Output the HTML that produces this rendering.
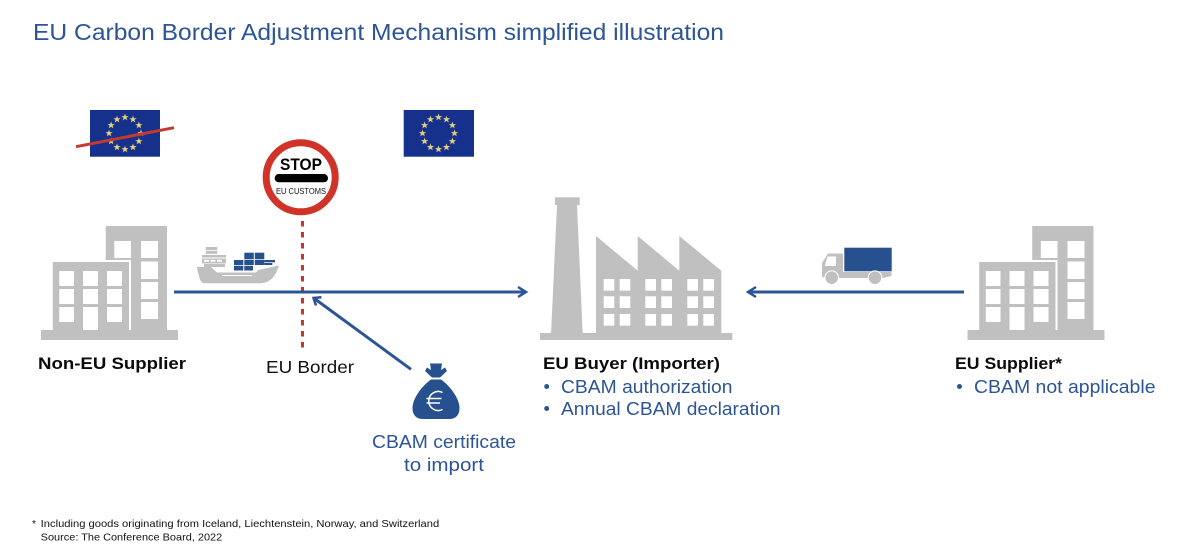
<!DOCTYPE html>
<html><head><meta charset="utf-8"><style>
html,body{margin:0;padding:0;background:#fff}
svg{display:block}
text{font-family:"Liberation Sans",sans-serif}
.b{font-weight:700;font-size:17px;fill:#0b0b0b}
.l{font-size:18px;fill:#2c5597}
</style></head><body>
<svg width="1179" height="551" viewBox="0 0 1179 551" xmlns="http://www.w3.org/2000/svg">
<defs>
<polygon id="s" fill="#e3cf7e" points="0,-3.8 .95,-1.2 3.7,-1.2 1.5,.45 2.3,3.1 0,1.5 -2.3,3.1 -1.5,.45 -3.7,-1.2 -.95,-1.2"/>
<g id="stars">
<use href="#s" x="0" y="-16"/><use href="#s" x="8" y="-13.9"/><use href="#s" x="13.9" y="-8"/><use href="#s" x="16" y="0"/><use href="#s" x="13.9" y="8"/><use href="#s" x="8" y="13.9"/><use href="#s" x="0" y="16"/><use href="#s" x="-8" y="13.9"/><use href="#s" x="-13.9" y="8"/><use href="#s" x="-16" y="0"/><use href="#s" x="-13.9" y="-8"/><use href="#s" x="-8" y="-13.9"/>
</g>
<g id="bld">
<rect x="105.7" y="226" width="61.3" height="106" fill="#c0c0c0"/>
<rect x="52.7" y="260" width="78.3" height="72" fill="#fff"/>
<rect x="52.7" y="262" width="76.3" height="70" fill="#c0c0c0"/>
<rect x="131" y="262" width="10" height="70" fill="#c0c0c0"/>
<rect x="41" y="330" width="137" height="10" fill="#c0c0c0"/>
<g fill="#fff">
<rect x="114.3" y="241" width="16.7" height="17"/><rect x="141" y="241" width="17" height="17"/><rect x="141" y="261.5" width="17" height="17.5"/><rect x="141" y="282" width="17" height="17"/><rect x="141" y="302" width="17" height="17"/>
<rect x="59.3" y="271" width="14.7" height="15"/><rect x="83" y="271" width="15" height="15"/><rect x="107" y="271" width="15" height="15"/>
<rect x="59.3" y="289" width="14.7" height="15"/><rect x="83" y="289" width="15" height="15"/><rect x="107" y="289" width="15" height="15"/>
<rect x="59.3" y="307" width="14.7" height="15"/><rect x="83" y="307" width="15" height="23"/><rect x="107" y="307" width="15" height="15"/>
</g>
</g>
</defs>

<text x="33" y="40" font-size="23.3" fill="#2c5597" textLength="691" lengthAdjust="spacingAndGlyphs">EU Carbon Border Adjustment Mechanism simplified illustration</text>

<!-- flags -->
<rect x="90" y="110" width="70" height="46.7" fill="#15318c"/>
<use href="#stars" x="125" y="133.3"/>
<line x1="76" y1="146.7" x2="174" y2="127.7" stroke="#c43a33" stroke-width="3"/>
<rect x="403.7" y="110" width="70.3" height="46.7" fill="#15318c"/>
<use href="#stars" x="438.5" y="133.3"/>

<!-- buildings -->
<use href="#bld"/>
<use href="#bld" x="926.5"/>

<!-- ship -->
<g fill="#c0c0c0">
<rect x="205.700" y="247" width="11.500" height="3"/>
<rect x="205.700" y="250.800" width="11.500" height="3"/>
<rect x="202" y="255" width="24" height="2.500"/>
<rect x="202" y="258.500" width="24" height="5"/>
<rect x="204" y="264" width="21" height="3"/>
<path d="M196.700 267 H211 L217 272.500 H256 L258 270 L279 265.500 L276.500 272 C273 279 268 283.300 259 283.300 H205 C201 283.300 200 280 199 276 Z"/>
</g>
<g fill="#fff"><rect x="204" y="259.800" width="5" height="2"/><rect x="210.500" y="259.800" width="5" height="2"/><rect x="217" y="259.800" width="5" height="2"/>
<rect x="222" y="275" width="30" height="1"/></g>
<g fill="#27508f">
<rect x="244.300" y="252.700" width="9.500" height="6.600"/><rect x="254.800" y="252.700" width="9.500" height="6.600"/>
<rect x="234" y="260" width="9.300" height="5"/><rect x="244.300" y="260" width="9.500" height="5"/><rect x="254.800" y="260" width="9.500" height="5"/>
<rect x="234" y="265.800" width="9.300" height="4.700"/><rect x="244.300" y="265.800" width="8.700" height="4.700"/>
<rect x="264.300" y="260" width="10.700" height="2.300"/><rect x="264.300" y="263" width="8" height="2"/>
</g>

<!-- stop sign -->
<line x1="302.500" y1="221" x2="302.500" y2="350" stroke="#c0392f" stroke-width="3" stroke-dasharray="5.500 5.500"/>
<circle cx="300.700" cy="177.300" r="34.500" fill="#fff" stroke="#d03428" stroke-width="7"/>
<text x="301" y="170" text-anchor="middle" font-size="16.500" font-weight="700" fill="#000" textLength="42" lengthAdjust="spacingAndGlyphs">STOP</text>
<rect x="274.700" y="174" width="53.300" height="8.300" rx="4.100" fill="#000"/>
<text x="301" y="194" text-anchor="middle" font-size="8" fill="#111" textLength="50" lengthAdjust="spacingAndGlyphs">EU CUSTOMS</text>

<!-- arrows -->
<g fill="none" stroke="#2c5597" stroke-width="3">
<line x1="174" y1="292" x2="525" y2="292"/>
<polyline points="518,287 526,292 518,297" stroke-width="2.500"/>
<line x1="964" y1="292" x2="749" y2="292"/>
<polyline points="756,287 748,292 756,297" stroke-width="2.500"/>
<line x1="411" y1="369.300" x2="315" y2="299"/>
<polyline points="316,305.500 313.500,298 321.500,297.300" stroke-width="2.500"/>
</g>

<!-- factory -->
<g fill="#c0c0c0">
<rect x="555" y="197.300" width="24.700" height="7.700"/>
<polygon points="557,205 577,205 582.700,334 551,334"/>
<polygon points="596,236 637.700,270.700 637.700,236 679.300,270.700 679.300,236 721.300,270.700 721.300,334 596,334"/>
<rect x="540" y="333" width="192.300" height="7"/>
</g>
<g fill="#fff">
<rect x="603.700" y="279" width="10.600" height="11.700"/><rect x="619.700" y="279" width="10.600" height="11.700"/><rect x="645.300" y="279" width="10.700" height="11.700"/><rect x="661.300" y="279" width="10.700" height="11.700"/><rect x="687.300" y="279" width="10.700" height="11.700"/><rect x="703.300" y="279" width="10.700" height="11.700"/>
<rect x="603.700" y="296.300" width="10.600" height="11.700"/><rect x="619.700" y="296.300" width="10.600" height="11.700"/><rect x="645.300" y="296.300" width="10.700" height="11.700"/><rect x="661.300" y="296.300" width="10.700" height="11.700"/><rect x="687.300" y="296.300" width="10.700" height="11.700"/><rect x="703.300" y="296.300" width="10.700" height="11.700"/>
<rect x="603.700" y="314" width="10.600" height="11.700"/><rect x="619.700" y="314" width="10.600" height="11.700"/><rect x="645.300" y="314" width="10.700" height="11.700"/><rect x="661.300" y="314" width="10.700" height="11.700"/><rect x="687.300" y="314" width="10.700" height="11.700"/><rect x="703.300" y="314" width="10.700" height="11.700"/>
</g>

<!-- truck -->
<path d="M828 253.500 H843 V272 H891.500 V276 L883 278 H830 L822 277 V263 Z" fill="#c0c0c0"/>
<polygon points="827.500,256.500 836,256.500 836,266 824.800,266" fill="#fff"/>
<rect x="844.300" y="247.700" width="47.400" height="23.600" fill="#27508f"/>
<circle cx="831.700" cy="277.700" r="6.800" fill="#c0c0c0" stroke="#fff" stroke-width="1"/>
<circle cx="875" cy="277.700" r="6.800" fill="#c0c0c0" stroke="#fff" stroke-width="1"/>

<!-- money bag -->
<g fill="#27508f">
<path d="M430 363.500 H442 L441 370 L445 367.500 L447 371 L440 377.500 H432 L425 371 L427 367.500 L431 370 Z"/>
<path d="M431 379.500 H441 C449 385 459.500 398 459.500 408 C459.500 415 456 419 449 419 H423 C416 419 412.500 415 412.500 408 C412.500 398 423 385 431 379.500 Z"/>
</g>
<path d="M442.500 392.500 A9.500 9.500 0 1 0 442.500 409.500 M426.500 398.500 H441.500 M426.500 403 H440" fill="none" stroke="#fff" stroke-width="1.500"/>

<!-- labels -->
<text class="b" x="38" y="369" textLength="148" lengthAdjust="spacingAndGlyphs">Non-EU Supplier</text>
<text x="266" y="373" font-size="17.500" fill="#111" textLength="88" lengthAdjust="spacingAndGlyphs">EU Border</text>
<text class="b" x="543" y="369" textLength="177" lengthAdjust="spacingAndGlyphs">EU Buyer (Importer)</text>
<circle cx="546.700" cy="386.500" r="2.500" fill="#2c5597"/>
<text class="l" x="561" y="393" textLength="171.500" lengthAdjust="spacingAndGlyphs">CBAM authorization</text>
<circle cx="546.700" cy="408.500" r="2.500" fill="#2c5597"/>
<text class="l" x="561" y="415" textLength="219.500" lengthAdjust="spacingAndGlyphs">Annual CBAM declaration</text>
<text class="b" x="955" y="369" textLength="107" lengthAdjust="spacingAndGlyphs">EU Supplier*</text>
<circle cx="959.500" cy="386.500" r="2.500" fill="#2c5597"/>
<text class="l" x="974" y="393" textLength="181.500" lengthAdjust="spacingAndGlyphs">CBAM not applicable</text>
<text class="l" x="372" y="448" textLength="144" lengthAdjust="spacingAndGlyphs">CBAM certificate</text>
<text class="l" x="404" y="471" textLength="80" lengthAdjust="spacingAndGlyphs">to import</text>
<text x="32" y="527" font-size="10.500" fill="#111">*</text>
<text x="40.700" y="527" font-size="10.500" fill="#111" textLength="398.500" lengthAdjust="spacingAndGlyphs">Including goods originating from Iceland, Liechtenstein, Norway, and Switzerland</text>
<text x="40.700" y="540.500" font-size="10.500" fill="#111" textLength="181.500" lengthAdjust="spacingAndGlyphs">Source: The Conference Board, 2022</text>
</svg>
</body></html>
